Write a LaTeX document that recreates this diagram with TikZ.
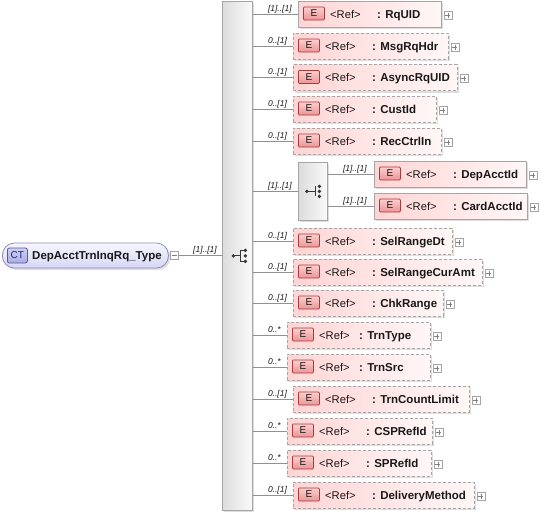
\documentclass[tikz,border=0pt]{standalone}
\usepackage{fontspec}
\setmainfont{Liberation Sans}
\usetikzlibrary{calc,shadows}
\definecolor{elemL}{RGB}{255,212,212}
\definecolor{elemR}{RGB}{255,247,247}
\definecolor{elemB}{RGB}{165,165,165}
\definecolor{eiconT}{RGB}{252,205,205}
\definecolor{eiconB}{RGB}{236,150,150}
\definecolor{eiconD}{RGB}{165,60,60}
\definecolor{connC}{RGB}{145,145,145}
\definecolor{grpL}{RGB}{220,220,220}
\definecolor{grpR}{RGB}{250,250,250}
\definecolor{grpB}{RGB}{165,165,165}
\definecolor{ctT}{RGB}{246,246,255}
\definecolor{ctB}{RGB}{214,214,246}
\definecolor{ctD}{RGB}{140,140,190}
\definecolor{cticonT}{RGB}{205,206,245}
\definecolor{cticonB}{RGB}{170,172,230}
\definecolor{cticonD}{RGB}{90,90,150}
\definecolor{ctTxt}{RGB}{40,40,100}
\definecolor{iconC}{RGB}{55,55,55}
\definecolor{txtC}{RGB}{25,25,25}
\tikzset{
  shad/.style={drop shadow={shadow xshift=2pt,shadow yshift=-2pt,fill=black,opacity=0.13}},
  elem/.style={draw=elemB, line width=0.8pt, left color=elemL, right color=elemR, minimum height=26pt, inner sep=0pt, anchor=west, shad},
  req/.style={elem},
  opt/.style={elem, dash pattern=on 3pt off 2pt},
  eicon/.style={draw=eiconD, line width=0.8pt, rounded corners=1pt, top color=eiconT, bottom color=eiconB, minimum width=21pt, minimum height=13pt, inner sep=0pt, anchor=west, text=txtC, font=\fontsize{10}{12}\selectfont},
  reftxt/.style={anchor=base west, inner sep=0pt, text=txtC, font=\fontsize{11.2}{13}\selectfont},
  nametxt/.style={anchor=base west, inner sep=0pt, text=txtC, font=\bfseries\fontsize{11.5}{13}\selectfont},
  card/.style={anchor=base west, inner sep=0pt, text=txtC, font=\itshape\fontsize{8.5}{10}\selectfont},
  conn/.style={draw=connC, line width=0.9pt},
  plusbox/.style={draw=elemB, fill=white, line width=0.6pt, minimum size=8pt, inner sep=0pt},
  pm/.style={draw=gray, line width=0.6pt},
  grp/.style={draw=grpB, line width=0.8pt, left color=grpL, right color=grpR, inner sep=0pt, shad},
  ctnode/.style={draw=ctD, line width=0.8pt, top color=ctT, bottom color=ctB, rounded corners=12pt, inner sep=0pt, shad},
  cticon/.style={draw=cticonD, line width=0.8pt, rounded corners=2pt, top color=cticonT, bottom color=cticonB, minimum width=20pt, minimum height=15pt, inner sep=0pt, anchor=west, text=ctTxt, font=\fontsize{10}{12}\selectfont},
  icn/.style={draw=iconC, line width=1pt}
}
\newcommand\erow[7]{%
  \node[#5, minimum width=#4pt] (#1) at (#2,#3) {};
  \node[eicon] (#1i) at ($(#1.west)+(5,-0.5)$) {E};
  \node[reftxt] (#1r) at ($(#1.west)+(32,4)$) {<Ref>};
  \node[nametxt] (#1n) at ($(#1.west)+(#7,4)$) {: #6};
  \node[plusbox] (#1p) at ($(#1.east)+(6,1)$) {};
  \draw[pm] ($(#1p.center)+(-2.5,0)$) -- ($(#1p.center)+(2.5,0)$) ($(#1p.center)+(0,-2.5)$) -- ($(#1p.center)+(0,2.5)$);
}
\newcommand\sconn[4]{%
  \draw[conn] (#1.east |- #2.west) -- (#2.west);
  \node[card] (#2c) at ($(#1.east |- #2.west)+(#4,-3)$) {#3};
}
\begin{document}
\begin{tikzpicture}[x=1pt,y=-1pt]
\useasboundingbox (0,0) rectangle (540,515);
% complex type
\node[ctnode, minimum width=166pt, minimum height=25pt, anchor=west] (ct) at (2,255.5) {};
\node[cticon] (cti) at ($(ct.west)+(5,0)$) {CT};
\node[nametxt] (ctn) at ($(ct.west)+(30,4)$) {DepAcctTrnInqRq\_Type};
\node[plusbox] (ctm) at (174,255.5) {};
\draw[pm] ($(ctm.center)+(-2.5,0)$) -- ($(ctm.center)+(2.5,0)$);
% sequence bar
\node[grp, anchor=north west, minimum width=30pt, minimum height=509pt] (seq) at (222,1) {};
\draw[conn] (ctm.east) -- (seq.west |- ctm.east);
\node[card] (ctc) at (193,252.5) {[1]..[1]};
\begin{scope}[shift={(seq.center)}]
  \draw[icn] (-4,0) -- (3,0) (3,-5.5) -- (3,5.5) (3,-5.5) -- (8,-5.5) (3,5.5) -- (8,5.5);
  \fill[iconC] (-4,0) circle (1.9) (8,-5.5) circle (1.9) (8,0) circle (1.9) (8,5.5) circle (1.9);
\end{scope}
% choice
\node[grp, anchor=north west, minimum width=29pt, minimum height=58pt] (ch) at (298,162) {};
\begin{scope}[shift={(ch.center)}]
  \draw[icn] (-6,0) -- (3,0) (3,-5) -- (3,5);
  \fill[iconC] (-6,0) circle (1.9) (6.5,-5) circle (1.9) (6.5,0) circle (1.9) (6.5,5) circle (1.9);
\end{scope}
% elements
\erow{r1}{298}{14}{143}{req}{RqUID}{79}
\erow{r2}{293}{46}{155}{opt}{MsgRqHdr}{79}
\erow{r3}{293}{77.5}{164}{opt}{AsyncRqUID}{79}
\erow{r4}{293}{109}{143}{opt}{CustId}{79}
\erow{r5}{293}{141}{148}{opt}{RecCtrlIn}{79}
\erow{d1}{374}{174}{152}{req}{DepAcctId}{79}
\erow{d2}{374}{206}{153}{req}{CardAcctId}{79}
\erow{r7}{293}{241}{159}{opt}{SelRangeDt}{79}
\erow{r8}{293}{272}{189}{opt}{SelRangeCurAmt}{79}
\erow{r9}{293}{303}{150}{opt}{ChkRange}{79}
\erow{r10}{287}{335}{143}{opt}{TrnType}{72}
\erow{r11}{287}{367}{143}{opt}{TrnSrc}{72}
\erow{r12}{293}{399}{176}{opt}{TrnCountLimit}{79}
\erow{r13}{287}{431}{145}{opt}{CSPRefId}{79}
\erow{r14}{287}{463}{144}{opt}{SPRefId}{79}
\erow{r15}{293}{495}{181}{opt}{DeliveryMethod}{79}
% connectors
\sconn{seq}{r1}{[1]..[1]}{15}
\sconn{seq}{r2}{0..[1]}{15}
\sconn{seq}{r3}{0..[1]}{15}
\sconn{seq}{r4}{0..[1]}{15}
\sconn{seq}{r5}{0..[1]}{15}
\sconn{seq}{ch}{[1]..[1]}{15}
\sconn{ch}{d1}{[1]..[1]}{15}
\sconn{ch}{d2}{[1]..[1]}{15}
\sconn{seq}{r7}{0..[1]}{15}
\sconn{seq}{r8}{0..[1]}{15}
\sconn{seq}{r9}{0..[1]}{15}
\sconn{seq}{r10}{0..*}{15}
\sconn{seq}{r11}{0..*}{15}
\sconn{seq}{r12}{0..[1]}{15}
\sconn{seq}{r13}{0..*}{15}
\sconn{seq}{r14}{0..*}{15}
\sconn{seq}{r15}{0..[1]}{15}
\end{tikzpicture}
\end{document}
